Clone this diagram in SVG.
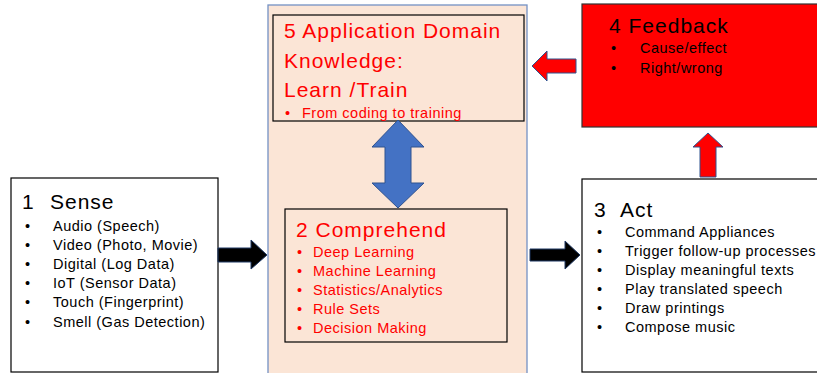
<svg xmlns="http://www.w3.org/2000/svg" width="817" height="373" viewBox="0 0 817 373">
<style>
.t{font-family:"Liberation Sans",Arial,sans-serif;font-size:14.5px;letter-spacing:0.5px;fill:#000}
.h{font-family:"Liberation Sans",Arial,sans-serif;font-size:21px;letter-spacing:1px;fill:#000}
.r{fill:#ff0000}
.box{stroke:#000;stroke-width:1.2}
</style>
<rect width="817" height="373" fill="#fff"/>
<g id="domain-bg">
<rect x="268" y="5" width="259" height="375" fill="#fbe5d6" stroke="#7391c4" stroke-width="1.3"/>
</g>
<g id="sense">
<rect class="box" x="11" y="178" width="207" height="194" fill="#fff"/>
<text class="h" x="22" y="209">1<tspan x="50">Sense</tspan></text>
<g class="t">
<text x="25" y="231">•</text><text x="53" y="231">Audio (Speech)</text>
<text x="25" y="250">•</text><text x="53" y="250">Video (Photo, Movie)</text>
<text x="25" y="269">•</text><text x="53" y="269">Digital (Log Data)</text>
<text x="25" y="288">•</text><text x="53" y="288">IoT (Sensor Data)</text>
<text x="25" y="307">•</text><text x="53" y="307">Touch (Fingerprint)</text>
<text x="25" y="327">•</text><text x="53" y="327">Smell (Gas Detection)</text>
</g>
</g>
<g id="knowledge">
<rect class="box" x="273" y="15" width="251" height="106" fill="#fbe5d6"/>
<text class="h r" x="284" y="38">5 Application Domain</text>
<text class="h r" x="284" y="68">Knowledge:</text>
<text class="h r" x="284" y="97">Learn /Train</text>
<text class="t r" x="285" y="118">•</text><text class="t r" x="302" y="118">From coding to training</text>
</g>
<g id="comprehend">
<rect class="box" x="285" y="209" width="222" height="133" fill="#fbe5d6"/>
<text class="h r" x="296" y="237">2 Comprehend</text>
<g class="t r">
<text x="297" y="257">•</text><text x="313" y="257">Deep Learning</text>
<text x="297" y="276">•</text><text x="313" y="276">Machine Learning</text>
<text x="297" y="295">•</text><text x="313" y="295">Statistics/Analytics</text>
<text x="297" y="314">•</text><text x="313" y="314">Rule Sets</text>
<text x="297" y="333">•</text><text x="313" y="333">Decision Making</text>
</g>
</g>
<g id="act">
<rect class="box" x="582" y="179" width="240" height="193" fill="#fff"/>
<text class="h" x="594" y="217">3<tspan x="620">Act</tspan></text>
<g class="t">
<text x="597" y="237">•</text><text x="625" y="237">Command Appliances</text>
<text x="597" y="256">•</text><text x="625" y="256">Trigger follow-up processes</text>
<text x="597" y="275">•</text><text x="625" y="275">Display meaningful texts</text>
<text x="597" y="294">•</text><text x="625" y="294">Play translated speech</text>
<text x="597" y="313">•</text><text x="625" y="313">Draw printings</text>
<text x="597" y="332">•</text><text x="625" y="332">Compose music</text>
</g>
</g>
<g id="feedback">
<rect x="582" y="4" width="240" height="123" fill="#ff0000" stroke="#333" stroke-width="1.2"/>
<text class="h" x="609" y="33">4 Feedback</text>
<g class="t">
<text x="611" y="53">•</text><text x="640" y="53">Cause/effect</text>
<text x="611" y="73">•</text><text x="640" y="73">Right/wrong</text>
</g>
</g>
<g id="connectors">
<path d="M398 120 L424 147 L411 147 L411 183 L424 183 L398 208 L372 183 L385 183 L385 147 L372 147 Z" fill="#4472c4" stroke="#2f528f" stroke-width="1"/>
<path d="M218 248 L251 248 L251 240 L267 255 L251 269 L251 262 L218 262 Z" fill="#000" stroke="#1f3864" stroke-width="1"/>
<path d="M530 249 L565 249 L565 241 L580 255 L565 269 L565 261 L530 261 Z" fill="#000" stroke="#1f3864" stroke-width="1"/>
<path d="M532 66 L547 51 L547 59 L576 59 L576 73 L547 73 L547 81 Z" fill="#ff0000" stroke="#2f528f" stroke-width="1"/>
<path d="M708 133 L723 147 L716 147 L716 177 L700 177 L700 147 L693 147 Z" fill="#ff0000" stroke="#2f528f" stroke-width="1"/>
</g>
</svg>
